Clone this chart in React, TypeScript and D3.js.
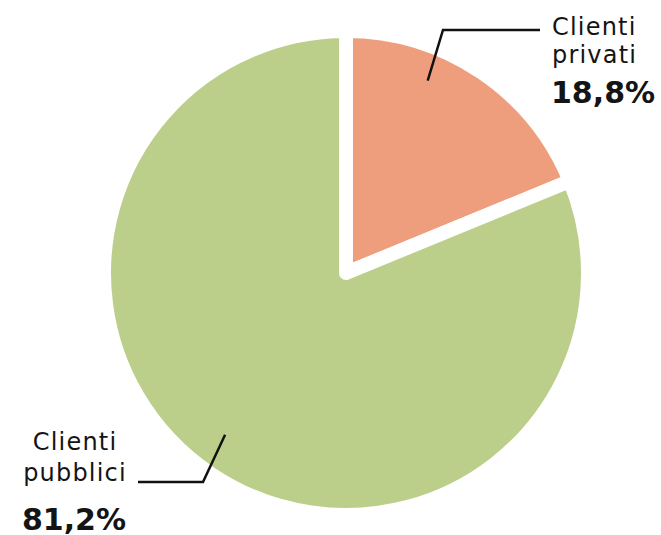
import React from "react";
import * as d3 from "d3";

const categories = ["Clienti privati", "Clienti pubblici"];
const labelLines = [["Clienti", "privati"], ["Clienti", "pubblici"]];
const values = [18.8, 81.2];
const valueLabels = ["18,8%", "81,2%"];
const colors = ["#EF9E7D", "#BBCF8A"];

const W = 661;
const H = 535;
const cx = 346;
const cy = 273;
const R = 242;
const GAP = 14;

export default function App() {
  const pie = d3.pie<number>().sort(null).value((d) => d)(values);
  const arc = d3.arc<d3.PieArcDatum<number>>().innerRadius(0).outerRadius(R);

  const pt = (angle: number, r: number) => [Math.sin(angle) * r, -Math.cos(angle) * r];
  const a0 = pie[0].startAngle + (pie[0].endAngle - pie[0].startAngle) * 0.34;
  const a1 = pie[1].startAngle + (pie[1].endAngle - pie[1].startAngle) * 0.51;
  const s0 = pt(a0, 209);
  const s1 = pt(a1, 202);

  const font = "'DejaVu Sans', sans-serif";
  return (
    <svg width={W} height={H} style={{ position: "absolute", left: 0, top: 0 }}>
      <rect width={W} height={H} fill="#fff" />
      <g transform={`translate(${cx},${cy})`}>
        {pie.map((p, i) => (
          <path
            key={categories[i]}
            d={arc(p) || ""}
            fill={colors[i]}
            stroke="#fff"
            strokeWidth={GAP}
            strokeLinejoin="round"
          />
        ))}
        <polyline
          points={`${s0[0]},${s0[1]} ${443 - cx},${30 - cy} ${540 - cx},${30 - cy}`}
          fill="none"
          stroke="#111"
          strokeWidth={2.5}
        />
        <polyline
          points={`${s1[0]},${s1[1]} ${203 - cx},${482 - cy} ${138 - cx},${482 - cy}`}
          fill="none"
          stroke="#111"
          strokeWidth={2.5}
        />
      </g>
      <g fontFamily={font} fill="#141414">
        <text x={552} y={35} fontSize={24} letterSpacing={1.2}>{labelLines[0][0]}</text>
        <text x={552} y={63} fontSize={24} letterSpacing={1.2}>{labelLines[0][1]}</text>
        <text x={551} y={103} fontSize={30} fontWeight="bold">{valueLabels[0]}</text>
        <text x={75} y={450} fontSize={24} letterSpacing={1.2} textAnchor="middle">{labelLines[1][0]}</text>
        <text x={75} y={481} fontSize={24} letterSpacing={1.2} textAnchor="middle">{labelLines[1][1]}</text>
        <text x={74} y={530} fontSize={30} fontWeight="bold" textAnchor="middle">{valueLabels[1]}</text>
      </g>
    </svg>
  );
}
